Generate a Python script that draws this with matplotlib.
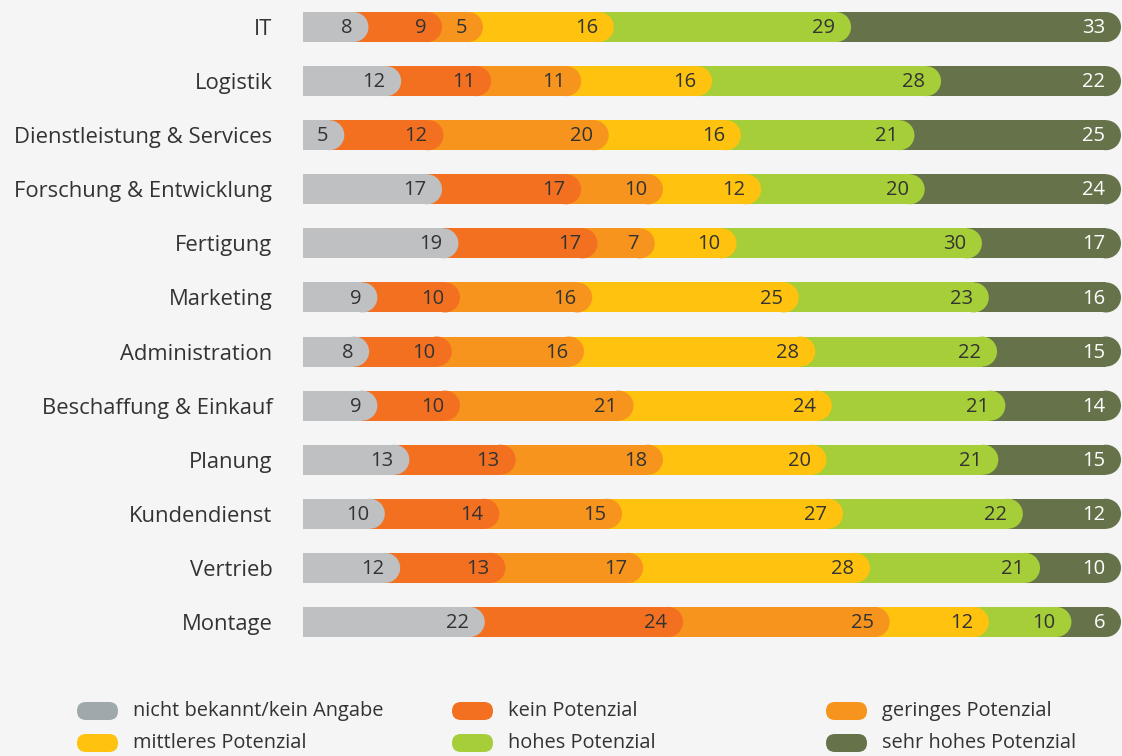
import matplotlib.pyplot as plt
from matplotlib.patches import Ellipse, FancyBboxPatch
import numpy as np

plt.rcParams['font.family'] = ['Open Sans', 'DejaVu Sans']

# categories (top to bottom) and shares per potential level
categories = ["IT", "Logistik", "Dienstleistung & Services", "Forschung & Entwicklung",
              "Fertigung", "Marketing", "Administration", "Beschaffung & Einkauf",
              "Planung", "Kundendienst", "Vertrieb", "Montage"]
unbekannt = [8, 12, 5, 17, 19, 9, 8, 9, 13, 10, 12, 22]
kein = [9, 11, 12, 17, 17, 10, 10, 10, 13, 14, 13, 24]
gering = [5, 11, 20, 10, 7, 16, 16, 21, 18, 15, 17, 25]
mittel = [16, 16, 16, 12, 10, 25, 28, 24, 20, 27, 28, 12]
hoch = [29, 28, 21, 20, 30, 23, 22, 21, 21, 22, 21, 10]
sehr_hoch = [33, 22, 25, 24, 17, 16, 15, 14, 15, 12, 10, 6]

series = [unbekannt, kein, gering, mittel, hoch, sehr_hoch]
legend_labels = ["nicht bekannt/kein Angabe", "kein Potenzial", "geringes Potenzial",
                 "mittleres Potenzial", "hohes Potenzial", "sehr hohes Potenzial"]
colors = ["#bfc0c2", "#f37021", "#f7941d", "#ffc20e", "#a6ce39", "#66734a"]
legend_colors = ["#9fa8ab", "#f37021", "#f7941d", "#ffc20e", "#a6ce39", "#66734a"]
bg = "#f4f5f4"

W, H = 1122, 756
fig = plt.figure(figsize=(W / 100, H / 100), dpi=100, facecolor=bg)
ax_l, ax_r, ax_t, ax_b = 303, 1121, 0, 649
ax = fig.add_axes([ax_l / W, 1 - ax_b / H, (ax_r - ax_l) / W, (ax_b - ax_t) / H])
ax.set_facecolor(bg)
n = len(categories)
ax.set_xlim(0, 100)
ax.set_ylim(n - 0.5, -0.5)

px_x = (ax_r - ax_l) / 100      # pixels per x unit
px_y = (ax_b - ax_t) / n        # pixels per row
bar_h_px = 30
h = bar_h_px / px_y
r = (bar_h_px / 2) / px_x       # cap radius in x units

y = np.arange(n)
data = np.array(series, dtype=float)
# bars all span the full width: scale each row to its total
scaled = data / data.sum(axis=0) * 100
ends = np.cumsum(scaled, axis=0)
starts = ends - scaled

for k in range(len(series) - 1, -1, -1):
    z = 10 - k
    left = starts[k] - r if k > 0 else starts[k]
    width = ends[k] - r - left
    ax.barh(y, width, left=left, height=h, color=colors[k], zorder=z, linewidth=0)
    for i in range(n):
        ax.add_patch(Ellipse((ends[k][i] - r, y[i]), 2 * r, h, facecolor=colors[k],
                             edgecolor='none', zorder=z))
        tc = "white" if k == 5 else "#333333"
        ax.text(ends[k][i] - 16 / px_x, y[i] + 0.02, f"{int(data[k][i])}", ha='right',
                va='center', fontsize=14.5, color=tc, zorder=20)

ax.set_yticks(y)
ax.set_yticklabels(categories, fontsize=15.8, color="#333333")
ax.tick_params(axis='y', length=0, pad=22)
ax.set_xticks([])
for s in ax.spines.values():
    s.set_visible(False)

# legend, drawn in a pixel-space overlay
lax = fig.add_axes([0, 0, 1, 1])
lax.set_xlim(0, W)
lax.set_ylim(H, 0)
lax.axis('off')
col_x = [77, 452, 826]
row_y = [711, 743]
sw, sh = 41, 18
for k, lab in enumerate(legend_labels):
    cx = col_x[k % 3]
    cy = row_y[k // 3]
    lax.add_patch(FancyBboxPatch((cx, cy - sh / 2), sw, sh,
                                 boxstyle=f"round,pad=0,rounding_size={sh / 2}",
                                 facecolor=legend_colors[k], edgecolor='none'))
    lax.text(cx + 56, cy, lab, ha='left', va='center', fontsize=14.4, color="#333333")

fig.savefig("out.png", dpi=100, facecolor=bg)
